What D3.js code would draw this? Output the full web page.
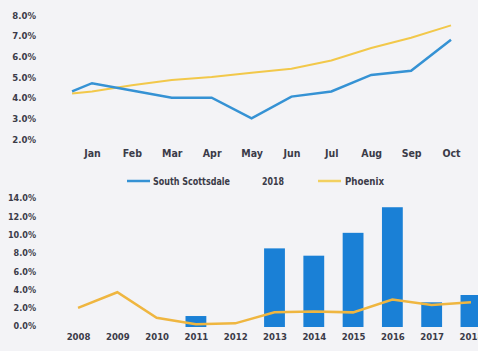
<!DOCTYPE html>
<html>
<head>
<meta charset="utf-8">
<script src="https://cdn.jsdelivr.net/npm/d3@7"></script>
<style>
body { margin:0; background:#f3f3f6; }
svg { display:block; }
text { font-family:"DejaVu Sans Condensed",sans-serif; font-weight:bold; fill:#3b3b48; }
.domain { display:none; }
</style>
</head>
<body>
<div id="chart-area"></div>
<script>
// top chart: monthly 2018
var months = ["Jan","Feb","Mar","Apr","May","Jun","Jul","Aug","Sep","Oct"];
var scottsdaleStart = 4.3;
var scottsdale = [4.7, 4.35, 4.0, 4.0, 3.0, 4.05, 4.3, 5.1, 5.3, 6.8];
var phoenixStart = 4.2;
var phoenix = [4.3, 4.6, 4.85, 5.0, 5.2, 5.4, 5.8, 6.4, 6.9, 7.5];
var topTicks = [2, 3, 4, 5, 6, 7, 8];

// bottom chart: yearly
var years = ["2008","2009","2010","2011","2012","2013","2014","2015","2016","2017","2018"];
var yearBars = [null, null, null, 1.2, null, 8.6, 7.8, 10.3, 13.1, 2.7, 3.5];
var yearLine = [2.1, 3.8, 1.0, 0.3, 0.4, 1.6, 1.7, 1.6, 3.0, 2.4, 2.7];
var bottomTicks = [0, 2, 4, 6, 8, 10, 12, 14];

var W = 478, H = 351;
var svg = d3.select("#chart-area").append("svg")
    .attr("width", W)
    .attr("height", H);
svg.append("rect").attr("width", W).attr("height", H).attr("fill", "#f3f3f6");

var fmt = function(d){ return d.toFixed(1) + "%"; };
var fontFam = "'DejaVu Sans Condensed',sans-serif";

// ---------- top ----------
var xTop = d3.scaleLinear().domain([0, months.length - 1]).range([92, 451]);
var yTop = d3.scaleLinear().domain([2, 8]).range([139, 15]);

svg.append("g")
    .attr("transform", "translate(36,0)")
    .call(d3.axisLeft(yTop).tickValues(topTicks).tickSize(0).tickPadding(0).tickFormat(fmt))
    .selectAll("text")
        .attr("font-size", "9.5px")
        .style("font-family", fontFam)
        .attr("fill", "#3b3b48");

svg.append("g")
    .attr("transform", "translate(0,150)")
    .call(d3.axisBottom(d3.scalePoint().domain(months).range([92, 451])).tickSize(0).tickPadding(0))
    .selectAll("text")
        .attr("font-size", "10.5px")
        .style("font-family", fontFam)
        .attr("fill", "#3b3b48");

var lineTop = d3.line()
    .x(function(d){ return xTop(d.i); })
    .y(function(d){ return yTop(d.v); });

function withStart(start, vals) {
    var pts = [{i: -0.5, v: start}];
    vals.forEach(function(v, i){ pts.push({i: i, v: v}); });
    return pts;
}

svg.append("path")
    .datum(withStart(phoenixStart, phoenix))
    .attr("d", lineTop)
    .attr("fill", "none")
    .attr("stroke", "#f2c84a")
    .attr("stroke-width", 2);

svg.append("path")
    .datum(withStart(scottsdaleStart, scottsdale))
    .attr("d", lineTop)
    .attr("fill", "none")
    .attr("stroke", "#3592d4")
    .attr("stroke-width", 2.5);

// legend
var leg = svg.append("g").attr("font-size", "11px");
leg.append("line").attr("x1", 127).attr("x2", 150).attr("y1", 181).attr("y2", 181)
    .attr("stroke", "#3592d4").attr("stroke-width", 2.5);
leg.append("text").attr("x", 153).attr("y", 185)
    .attr("textLength", 77).attr("lengthAdjust", "spacingAndGlyphs").text("South Scottsdale");
leg.append("text").attr("x", 262).attr("y", 185)
    .attr("textLength", 22).attr("lengthAdjust", "spacingAndGlyphs").text("2018");
leg.append("line").attr("x1", 318).attr("x2", 341).attr("y1", 181).attr("y2", 181)
    .attr("stroke", "#f2d060").attr("stroke-width", 2.5);
leg.append("text").attr("x", 345).attr("y", 185)
    .attr("textLength", 39).attr("lengthAdjust", "spacingAndGlyphs").text("Phoenix");

// ---------- bottom ----------
var xBot = d3.scaleBand().domain(years).range([58.4, 490.6]).paddingInner(0.47).paddingOuter(0.235);
var xBotC = function(d){ return xBot(d) + xBot.bandwidth() / 2; };
var yBot = d3.scaleLinear().domain([0, 14]).range([327, 199]);

svg.append("g")
    .attr("transform", "translate(36,-1)")
    .call(d3.axisLeft(yBot).tickValues(bottomTicks).tickSize(0).tickPadding(0).tickFormat(fmt))
    .selectAll("text")
        .attr("font-size", "9px")
        .style("font-family", fontFam)
        .attr("fill", "#3b3b48");

svg.append("g")
    .attr("transform", "translate(0,333)")
    .call(d3.axisBottom(d3.scalePoint().domain(years).range([xBotC("2008"), xBotC("2018")])).tickSize(0).tickPadding(0))
    .selectAll("text")
        .attr("font-size", "9.5px")
        .style("font-family", fontFam)
        .attr("fill", "#3b3b48");

var barData = years.map(function(y, i){ return {year: y, v: yearBars[i]}; })
    .filter(function(d){ return d.v !== null; });

svg.selectAll("rect.bar")
    .data(barData)
    .enter()
    .append("rect")
    .attr("class", "bar")
    .attr("x", function(d){ return xBot(d.year); })
    .attr("y", function(d){ return yBot(d.v); })
    .attr("width", xBot.bandwidth())
    .attr("height", function(d){ return yBot(0) - yBot(d.v); })
    .attr("fill", "#1a80d6");

svg.append("path")
    .datum(years.map(function(y, i){ return {year: y, v: yearLine[i]}; }))
    .attr("d", d3.line()
        .x(function(d){ return xBotC(d.year); })
        .y(function(d){ return yBot(d.v); }))
    .attr("fill", "none")
    .attr("stroke", "#efb640")
    .attr("stroke-width", 2.5);
</script>
</body>
</html>
